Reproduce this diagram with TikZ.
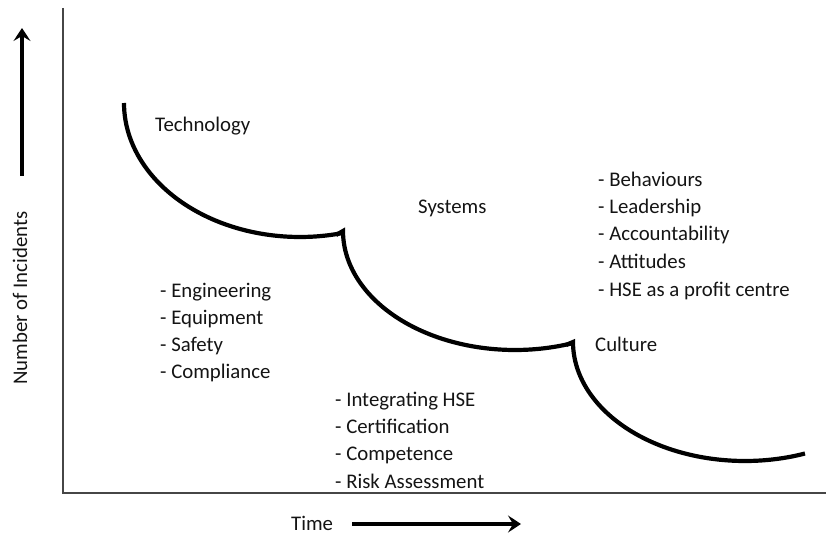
\documentclass[tikz,border=0pt]{standalone}
\usepackage{fontspec}
\setmainfont{Carlito}
\usetikzlibrary{arrows.meta}
\definecolor{axisgray}{RGB}{70,70,70}
\definecolor{txt}{RGB}{20,20,20}
\begin{document}
\begin{tikzpicture}[x=1pt,y=-1pt,
  lbl/.style={anchor=base west,inner sep=0pt,text=txt,font=\fontsize{20.8}{24}\selectfont},
  curve/.style={line width=4.2pt,black},
  axis/.style={line width=1.4pt,axisgray},
  bigarrow/.style={line width=3.6pt,-{Stealth[length=13pt,width=17pt,inset=5pt]}}]
\useasboundingbox (0,0) rectangle (826,534);
% axes
\coordinate (ytop) at (63,8);
\coordinate (origin) at (63,493);
\coordinate (xend) at (826,493);
\draw[axis] (ytop) -- (origin) -- (xend);
% axis arrows
\coordinate (ya) at (22,176);
\coordinate (yb) at (22,28);
\draw[bigarrow] (ya) -- (yb);
\coordinate (xa) at (352,524);
\coordinate (xb) at (521,524);
\draw[bigarrow] (xa) -- (xb);
\node[lbl,anchor=center,rotate=90] (ylab) at (20,298) {Number of Incidents};
\node[lbl] (tlab) at (291,530) {Time};
% curves
\coordinate (c1s) at (124,103);
\coordinate (c2s) at (343,231);
\coordinate (c3s) at (573,342);
\draw[curve] (c1s) arc[start angle=180,end angle=76.3,x radius=176,y radius=134];
\draw[curve,line join=miter] (336,235) -- (c2s) arc[start angle=180,end angle=70.3,x radius=172,y radius=119];
\draw[curve,line join=miter] (566,345) -- (c3s) arc[start angle=180,end angle=69.6,x radius=172,y radius=119];
% labels
\node[lbl] (tech) at (155,132) {Technology};
\node[lbl] (sys) at (418,214) {Systems};
\node[lbl] (cul) at (595,351) {Culture};
\node[lbl] (e1) at (160,297) {- Engineering};
\node[lbl] (e2) at (160,324) {- Equipment};
\node[lbl] (e3) at (160,351) {- Safety};
\node[lbl] (e4) at (160,378) {- Compliance};
\node[lbl] (s1) at (335,406) {- Integrating HSE};
\node[lbl] (s2) at (335,433) {- Certification};
\node[lbl] (s3) at (335,460) {- Competence};
\node[lbl] (s4) at (335,488) {- Risk Assessment};
\node[lbl] (b1) at (598,187) {- Behaviours};
\node[lbl] (b2) at (598,214) {- Leadership};
\node[lbl] (b3) at (598,241) {- Accountability};
\node[lbl] (b4) at (598,269) {- Attitudes};
\node[lbl] (b5) at (598,296) {- HSE as a profit centre};
\end{tikzpicture}
\end{document}
